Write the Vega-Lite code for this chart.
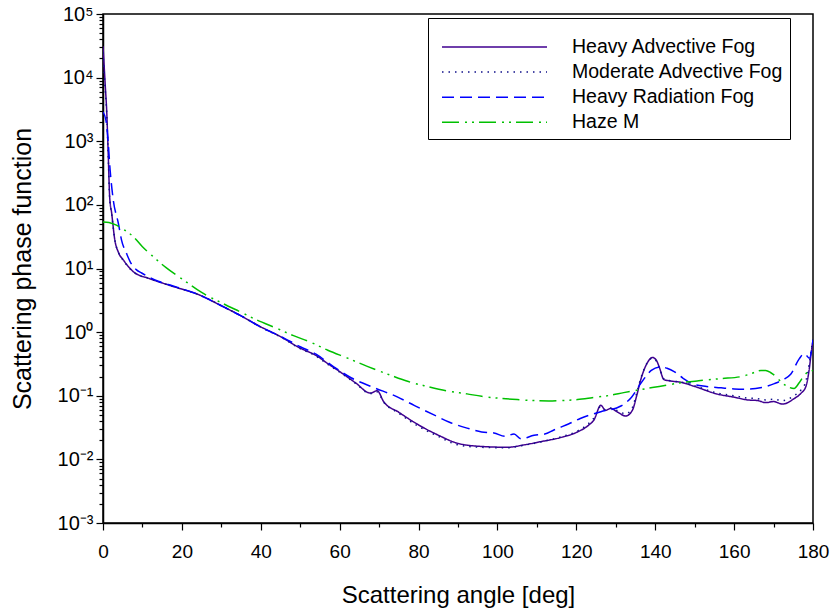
{
  "$schema": "https://vega.github.io/schema/vega-lite/v6.json",
  "width": 710,
  "height": 509,
  "autosize": "none",
  "padding": {"left": 103, "top": 14, "right": 18, "bottom": 87},
  "background": "white",
  "config": {
    "font": "Liberation Sans",
    "view": {"stroke": "black", "strokeWidth": 1.5},
    "axis": {"grid": false, "domainColor": "black", "tickColor": "black", "labelColor": "black", "titleColor": "black", "titleFontWeight": "normal", "labelFont": "Liberation Sans", "titleFont": "Liberation Sans", "domainWidth": 1.5, "tickWidth": 1.2},
    "legend": {"titleFont": "Liberation Sans", "labelFont": "Liberation Sans"}
  },
  "data": {"values": [
    {"s":"Heavy Advective Fog","a":0,"v":31000},{"s":"Heavy Advective Fog","a":0.3,"v":15000},{"s":"Heavy Advective Fog","a":0.6,"v":7000},{"s":"Heavy Advective Fog","a":0.93,"v":3100},{"s":"Heavy Advective Fog","a":1.3,"v":700},{"s":"Heavy Advective Fog","a":1.7,"v":130},{"s":"Heavy Advective Fog","a":2.2,"v":74},{"s":"Heavy Advective Fog","a":3.0,"v":28},{"s":"Heavy Advective Fog","a":3.9,"v":18},{"s":"Heavy Advective Fog","a":5.2,"v":13.5},{"s":"Heavy Advective Fog","a":7.7,"v":8.9},{"s":"Heavy Advective Fog","a":11.9,"v":6.9},{"s":"Heavy Advective Fog","a":17,"v":5.4},{"s":"Heavy Advective Fog","a":24.6,"v":3.8},{"s":"Heavy Advective Fog","a":30,"v":2.6},{"s":"Heavy Advective Fog","a":35,"v":1.8},{"s":"Heavy Advective Fog","a":40,"v":1.21},{"s":"Heavy Advective Fog","a":45,"v":0.85},{"s":"Heavy Advective Fog","a":50,"v":0.56},{"s":"Heavy Advective Fog","a":54,"v":0.43},{"s":"Heavy Advective Fog","a":57,"v":0.32},{"s":"Heavy Advective Fog","a":60,"v":0.24},{"s":"Heavy Advective Fog","a":64,"v":0.16},{"s":"Heavy Advective Fog","a":67.8,"v":0.11},{"s":"Heavy Advective Fog","a":69.5,"v":0.12},{"s":"Heavy Advective Fog","a":71.2,"v":0.08},{"s":"Heavy Advective Fog","a":75,"v":0.055},{"s":"Heavy Advective Fog","a":79.6,"v":0.036},{"s":"Heavy Advective Fog","a":85,"v":0.024},{"s":"Heavy Advective Fog","a":89.8,"v":0.018},{"s":"Heavy Advective Fog","a":95.7,"v":0.016},{"s":"Heavy Advective Fog","a":102.5,"v":0.0155},{"s":"Heavy Advective Fog","a":107,"v":0.017},{"s":"Heavy Advective Fog","a":111,"v":0.019},{"s":"Heavy Advective Fog","a":116,"v":0.022},{"s":"Heavy Advective Fog","a":120.3,"v":0.027},{"s":"Heavy Advective Fog","a":123,"v":0.034},{"s":"Heavy Advective Fog","a":124.5,"v":0.042},{"s":"Heavy Advective Fog","a":126.2,"v":0.071},{"s":"Heavy Advective Fog","a":127.4,"v":0.059},{"s":"Heavy Advective Fog","a":128.7,"v":0.063},{"s":"Heavy Advective Fog","a":130.5,"v":0.055},{"s":"Heavy Advective Fog","a":132.5,"v":0.048},{"s":"Heavy Advective Fog","a":134.2,"v":0.059},{"s":"Heavy Advective Fog","a":135.3,"v":0.1},{"s":"Heavy Advective Fog","a":136.3,"v":0.176},{"s":"Heavy Advective Fog","a":138,"v":0.33},{"s":"Heavy Advective Fog","a":139.3,"v":0.4},{"s":"Heavy Advective Fog","a":140.3,"v":0.36},{"s":"Heavy Advective Fog","a":141,"v":0.285},{"s":"Heavy Advective Fog","a":142.2,"v":0.18},{"s":"Heavy Advective Fog","a":144,"v":0.17},{"s":"Heavy Advective Fog","a":146.5,"v":0.163},{"s":"Heavy Advective Fog","a":150,"v":0.14},{"s":"Heavy Advective Fog","a":155.8,"v":0.106},{"s":"Heavy Advective Fog","a":160,"v":0.095},{"s":"Heavy Advective Fog","a":163.4,"v":0.086},{"s":"Heavy Advective Fog","a":166,"v":0.084},{"s":"Heavy Advective Fog","a":168,"v":0.078},{"s":"Heavy Advective Fog","a":170,"v":0.081},{"s":"Heavy Advective Fog","a":172.3,"v":0.074},{"s":"Heavy Advective Fog","a":175.2,"v":0.09},{"s":"Heavy Advective Fog","a":177,"v":0.11},{"s":"Heavy Advective Fog","a":178.2,"v":0.14},{"s":"Heavy Advective Fog","a":179,"v":0.25},{"s":"Heavy Advective Fog","a":179.6,"v":0.5},{"s":"Heavy Advective Fog","a":180,"v":0.75},

    {"s":"Moderate Advective Fog","a":0,"v":25000},{"s":"Moderate Advective Fog","a":0.3,"v":12000},{"s":"Moderate Advective Fog","a":0.6,"v":6000},{"s":"Moderate Advective Fog","a":0.93,"v":2800},{"s":"Moderate Advective Fog","a":1.3,"v":650},{"s":"Moderate Advective Fog","a":1.7,"v":125},{"s":"Moderate Advective Fog","a":2.2,"v":72},{"s":"Moderate Advective Fog","a":3.0,"v":28},{"s":"Moderate Advective Fog","a":3.9,"v":18},{"s":"Moderate Advective Fog","a":5.2,"v":13.3},{"s":"Moderate Advective Fog","a":7.7,"v":8.8},{"s":"Moderate Advective Fog","a":11.9,"v":6.9},{"s":"Moderate Advective Fog","a":17,"v":5.4},{"s":"Moderate Advective Fog","a":24.6,"v":3.8},{"s":"Moderate Advective Fog","a":30,"v":2.6},{"s":"Moderate Advective Fog","a":35,"v":1.8},{"s":"Moderate Advective Fog","a":40,"v":1.2},{"s":"Moderate Advective Fog","a":45,"v":0.84},{"s":"Moderate Advective Fog","a":50,"v":0.55},{"s":"Moderate Advective Fog","a":54,"v":0.42},{"s":"Moderate Advective Fog","a":57,"v":0.31},{"s":"Moderate Advective Fog","a":60,"v":0.235},{"s":"Moderate Advective Fog","a":64,"v":0.157},{"s":"Moderate Advective Fog","a":67.8,"v":0.108},{"s":"Moderate Advective Fog","a":69.5,"v":0.115},{"s":"Moderate Advective Fog","a":71.2,"v":0.079},{"s":"Moderate Advective Fog","a":75,"v":0.053},{"s":"Moderate Advective Fog","a":79.6,"v":0.034},{"s":"Moderate Advective Fog","a":85,"v":0.023},{"s":"Moderate Advective Fog","a":89.8,"v":0.017},{"s":"Moderate Advective Fog","a":95.7,"v":0.0155},{"s":"Moderate Advective Fog","a":102.5,"v":0.0152},{"s":"Moderate Advective Fog","a":107,"v":0.0168},{"s":"Moderate Advective Fog","a":111,"v":0.0188},{"s":"Moderate Advective Fog","a":116,"v":0.0225},{"s":"Moderate Advective Fog","a":120.3,"v":0.028},{"s":"Moderate Advective Fog","a":123,"v":0.036},{"s":"Moderate Advective Fog","a":124.5,"v":0.045},{"s":"Moderate Advective Fog","a":126.2,"v":0.068},{"s":"Moderate Advective Fog","a":127.4,"v":0.06},{"s":"Moderate Advective Fog","a":128.7,"v":0.064},{"s":"Moderate Advective Fog","a":130.5,"v":0.058},{"s":"Moderate Advective Fog","a":132.5,"v":0.052},{"s":"Moderate Advective Fog","a":134.2,"v":0.065},{"s":"Moderate Advective Fog","a":135.3,"v":0.11},{"s":"Moderate Advective Fog","a":136.3,"v":0.185},{"s":"Moderate Advective Fog","a":138,"v":0.33},{"s":"Moderate Advective Fog","a":139.3,"v":0.39},{"s":"Moderate Advective Fog","a":140.3,"v":0.35},{"s":"Moderate Advective Fog","a":141,"v":0.28},{"s":"Moderate Advective Fog","a":142.2,"v":0.185},{"s":"Moderate Advective Fog","a":144,"v":0.172},{"s":"Moderate Advective Fog","a":146.5,"v":0.165},{"s":"Moderate Advective Fog","a":150,"v":0.143},{"s":"Moderate Advective Fog","a":155.8,"v":0.11},{"s":"Moderate Advective Fog","a":160,"v":0.1},{"s":"Moderate Advective Fog","a":163.4,"v":0.092},{"s":"Moderate Advective Fog","a":166,"v":0.09},{"s":"Moderate Advective Fog","a":168,"v":0.086},{"s":"Moderate Advective Fog","a":170,"v":0.088},{"s":"Moderate Advective Fog","a":172.3,"v":0.084},{"s":"Moderate Advective Fog","a":175.2,"v":0.1},{"s":"Moderate Advective Fog","a":177,"v":0.125},{"s":"Moderate Advective Fog","a":178.2,"v":0.17},{"s":"Moderate Advective Fog","a":179,"v":0.3},{"s":"Moderate Advective Fog","a":179.6,"v":0.55},{"s":"Moderate Advective Fog","a":180,"v":0.78},

    {"s":"Heavy Radiation Fog","a":0,"v":2900},{"s":"Heavy Radiation Fog","a":0.76,"v":2100},{"s":"Heavy Radiation Fog","a":1.2,"v":1200},{"s":"Heavy Radiation Fog","a":1.8,"v":355},{"s":"Heavy Radiation Fog","a":2.6,"v":120},{"s":"Heavy Radiation Fog","a":3.9,"v":51},{"s":"Heavy Radiation Fog","a":4.7,"v":28},{"s":"Heavy Radiation Fog","a":6.0,"v":17},{"s":"Heavy Radiation Fog","a":6.9,"v":12.7},{"s":"Heavy Radiation Fog","a":8.5,"v":9.5},{"s":"Heavy Radiation Fog","a":9.8,"v":8.5},{"s":"Heavy Radiation Fog","a":11.9,"v":7.2},{"s":"Heavy Radiation Fog","a":14,"v":6.3},{"s":"Heavy Radiation Fog","a":17,"v":5.5},{"s":"Heavy Radiation Fog","a":24.6,"v":3.8},{"s":"Heavy Radiation Fog","a":30,"v":2.6},{"s":"Heavy Radiation Fog","a":35,"v":1.8},{"s":"Heavy Radiation Fog","a":40,"v":1.2},{"s":"Heavy Radiation Fog","a":45,"v":0.86},{"s":"Heavy Radiation Fog","a":50,"v":0.59},{"s":"Heavy Radiation Fog","a":54,"v":0.45},{"s":"Heavy Radiation Fog","a":58.5,"v":0.285},{"s":"Heavy Radiation Fog","a":63,"v":0.19},{"s":"Heavy Radiation Fog","a":68.6,"v":0.135},{"s":"Heavy Radiation Fog","a":74.6,"v":0.096},{"s":"Heavy Radiation Fog","a":79,"v":0.07},{"s":"Heavy Radiation Fog","a":83.9,"v":0.05},{"s":"Heavy Radiation Fog","a":88,"v":0.038},{"s":"Heavy Radiation Fog","a":92.3,"v":0.031},{"s":"Heavy Radiation Fog","a":96,"v":0.027},{"s":"Heavy Radiation Fog","a":99.1,"v":0.026},{"s":"Heavy Radiation Fog","a":102,"v":0.023},{"s":"Heavy Radiation Fog","a":104.2,"v":0.025},{"s":"Heavy Radiation Fog","a":106,"v":0.021},{"s":"Heavy Radiation Fog","a":109.3,"v":0.024},{"s":"Heavy Radiation Fog","a":112,"v":0.025},{"s":"Heavy Radiation Fog","a":114.3,"v":0.029},{"s":"Heavy Radiation Fog","a":116,"v":0.032},{"s":"Heavy Radiation Fog","a":118,"v":0.036},{"s":"Heavy Radiation Fog","a":121,"v":0.044},{"s":"Heavy Radiation Fog","a":126.2,"v":0.056},{"s":"Heavy Radiation Fog","a":131.3,"v":0.069},{"s":"Heavy Radiation Fog","a":134,"v":0.095},{"s":"Heavy Radiation Fog","a":136.3,"v":0.155},{"s":"Heavy Radiation Fog","a":139,"v":0.25},{"s":"Heavy Radiation Fog","a":141.4,"v":0.285},{"s":"Heavy Radiation Fog","a":143,"v":0.27},{"s":"Heavy Radiation Fog","a":144.8,"v":0.24},{"s":"Heavy Radiation Fog","a":147,"v":0.19},{"s":"Heavy Radiation Fog","a":149.9,"v":0.15},{"s":"Heavy Radiation Fog","a":153,"v":0.14},{"s":"Heavy Radiation Fog","a":156.7,"v":0.133},{"s":"Heavy Radiation Fog","a":160,"v":0.128},{"s":"Heavy Radiation Fog","a":163.4,"v":0.127},{"s":"Heavy Radiation Fog","a":167,"v":0.135},{"s":"Heavy Radiation Fog","a":170.2,"v":0.155},{"s":"Heavy Radiation Fog","a":172.5,"v":0.18},{"s":"Heavy Radiation Fog","a":174.4,"v":0.22},{"s":"Heavy Radiation Fog","a":176.5,"v":0.38},{"s":"Heavy Radiation Fog","a":177.8,"v":0.46},{"s":"Heavy Radiation Fog","a":179.1,"v":0.39},{"s":"Heavy Radiation Fog","a":180,"v":0.75},

    {"s":"Haze M","a":0,"v":54},{"s":"Haze M","a":1.5,"v":53},{"s":"Haze M","a":3.4,"v":48},{"s":"Haze M","a":5.5,"v":40},{"s":"Haze M","a":7.7,"v":31.6},{"s":"Haze M","a":10,"v":22},{"s":"Haze M","a":12.8,"v":15.2},{"s":"Haze M","a":16,"v":10.3},{"s":"Haze M","a":20.4,"v":6.6},{"s":"Haze M","a":25,"v":4.2},{"s":"Haze M","a":30.5,"v":2.8},{"s":"Haze M","a":35,"v":2.05},{"s":"Haze M","a":39,"v":1.55},{"s":"Haze M","a":44,"v":1.15},{"s":"Haze M","a":48.3,"v":0.88},{"s":"Haze M","a":52.5,"v":0.7},{"s":"Haze M","a":57,"v":0.52},{"s":"Haze M","a":62,"v":0.39},{"s":"Haze M","a":67,"v":0.29},{"s":"Haze M","a":72.9,"v":0.21},{"s":"Haze M","a":77,"v":0.17},{"s":"Haze M","a":82.2,"v":0.14},{"s":"Haze M","a":87,"v":0.12},{"s":"Haze M","a":92.3,"v":0.107},{"s":"Haze M","a":96,"v":0.098},{"s":"Haze M","a":100.8,"v":0.091},{"s":"Haze M","a":105,"v":0.087},{"s":"Haze M","a":109.3,"v":0.084},{"s":"Haze M","a":113,"v":0.083},{"s":"Haze M","a":116,"v":0.084},{"s":"Haze M","a":120.3,"v":0.087},{"s":"Haze M","a":124,"v":0.093},{"s":"Haze M","a":128.7,"v":0.102},{"s":"Haze M","a":132,"v":0.112},{"s":"Haze M","a":136.3,"v":0.125},{"s":"Haze M","a":141,"v":0.14},{"s":"Haze M","a":146.5,"v":0.16},{"s":"Haze M","a":151,"v":0.172},{"s":"Haze M","a":156.7,"v":0.186},{"s":"Haze M","a":161.8,"v":0.2},{"s":"Haze M","a":164.5,"v":0.225},{"s":"Haze M","a":166.8,"v":0.25},{"s":"Haze M","a":168,"v":0.25},{"s":"Haze M","a":169.3,"v":0.23},{"s":"Haze M","a":170.6,"v":0.2},{"s":"Haze M","a":171.9,"v":0.165},{"s":"Haze M","a":173.5,"v":0.14},{"s":"Haze M","a":175.2,"v":0.13},{"s":"Haze M","a":176.5,"v":0.16},{"s":"Haze M","a":177.8,"v":0.21},{"s":"Haze M","a":179,"v":0.24},{"s":"Haze M","a":180,"v":0.25}
  ]},
  "mark": {"type": "line", "strokeWidth": 1.5, "clip": true, "interpolate": "monotone"},
  "encoding": {
    "x": {
      "field": "a", "type": "quantitative",
      "scale": {"domain": [0, 180], "nice": false, "zero": false},
      "axis": {
        "title": "Scattering angle [deg]",
        "values": [0,10,20,30,40,50,60,70,80,90,100,110,120,130,140,150,160,170,180],
        "labelExpr": "datum.value % 20 == 0 ? datum.label : ''",
        "tickSize": {"condition": {"test": "datum.value % 20 == 0", "value": 7}, "value": 4},
        "labelFontSize": 19, "labelPadding": 12, "titleFontSize": 24, "titlePadding": 22,
        "labelFlush": false, "labelOverlap": false
      }
    },
    "y": {
      "field": "v", "type": "quantitative",
      "scale": {"type": "log", "domain": [0.001, 100000], "nice": false},
      "axis": {
        "title": "Scattering phase function",
        "values": [0.001,0.002,0.003,0.004,0.005,0.006,0.007,0.008,0.009,0.01,0.02,0.03,0.04,0.05,0.06,0.07,0.08,0.09,0.1,0.2,0.3,0.4,0.5,0.6,0.7,0.8,0.9,1,2,3,4,5,6,7,8,9,10,20,30,40,50,60,70,80,90,100,200,300,400,500,600,700,800,900,1000,2000,3000,4000,5000,6000,7000,8000,9000,10000,20000,30000,40000,50000,60000,70000,80000,90000,100000],
        "labelExpr": "datum.value==0.001?'10⁻³':datum.value==0.01?'10⁻²':datum.value==0.1?'10⁻¹':datum.value==1?'10⁰':datum.value==10?'10¹':datum.value==100?'10²':datum.value==1000?'10³':datum.value==10000?'10⁴':datum.value==100000?'10⁵':''",
        "tickSize": {"condition": {"test": "indexof([0.001,0.01,0.1,1,10,100,1000,10000,100000], datum.value) >= 0", "value": 7}, "value": 4},
        "labelFontSize": 20, "labelPadding": 3, "titleFontSize": 25, "titlePadding": 22,
        "labelFlush": false, "labelOverlap": false
      }
    },
    "color": {
      "field": "s", "type": "nominal",
      "scale": {"domain": ["Heavy Advective Fog", "Moderate Advective Fog", "Heavy Radiation Fog", "Haze M"], "range": ["#400090", "#10108a", "#0000ff", "#00c000"]},
      "legend": {
        "title": "   ",
        "titleFontSize": 10, "titlePadding": 3,
        "orient": "none", "legendX": 325, "legendY": 4,
        "symbolType": "stroke", "symbolSize": 11025, "symbolStrokeWidth": 1.5,
        "clipHeight": 19, "rowPadding": 5.1, "labelOffset": 24, "labelFontSize": 19.5,
        "labelLimit": 400, "strokeColor": "black", "fillColor": "white", "padding": 6.5,
        "symbolOffset": 6.5, "labelColor": "black"
      }
    },
    "strokeDash": {
      "field": "s", "type": "nominal",
      "scale": {"domain": ["Heavy Advective Fog", "Moderate Advective Fog", "Heavy Radiation Fog", "Haze M"], "range": [[1, 0], [1.5, 5], [12, 6], [17, 6, 2, 5, 2, 5]]},
      "legend": {
        "title": "   ",
        "titleFontSize": 10, "titlePadding": 3,
        "orient": "none", "legendX": 325, "legendY": 4,
        "symbolType": "stroke", "symbolSize": 11025, "symbolStrokeWidth": 1.5,
        "clipHeight": 19, "rowPadding": 5.1, "labelOffset": 24, "labelFontSize": 19.5,
        "labelLimit": 400, "strokeColor": "black", "fillColor": "white", "padding": 6.5,
        "symbolOffset": 6.5, "labelColor": "black"
      }
    }
  }
}
